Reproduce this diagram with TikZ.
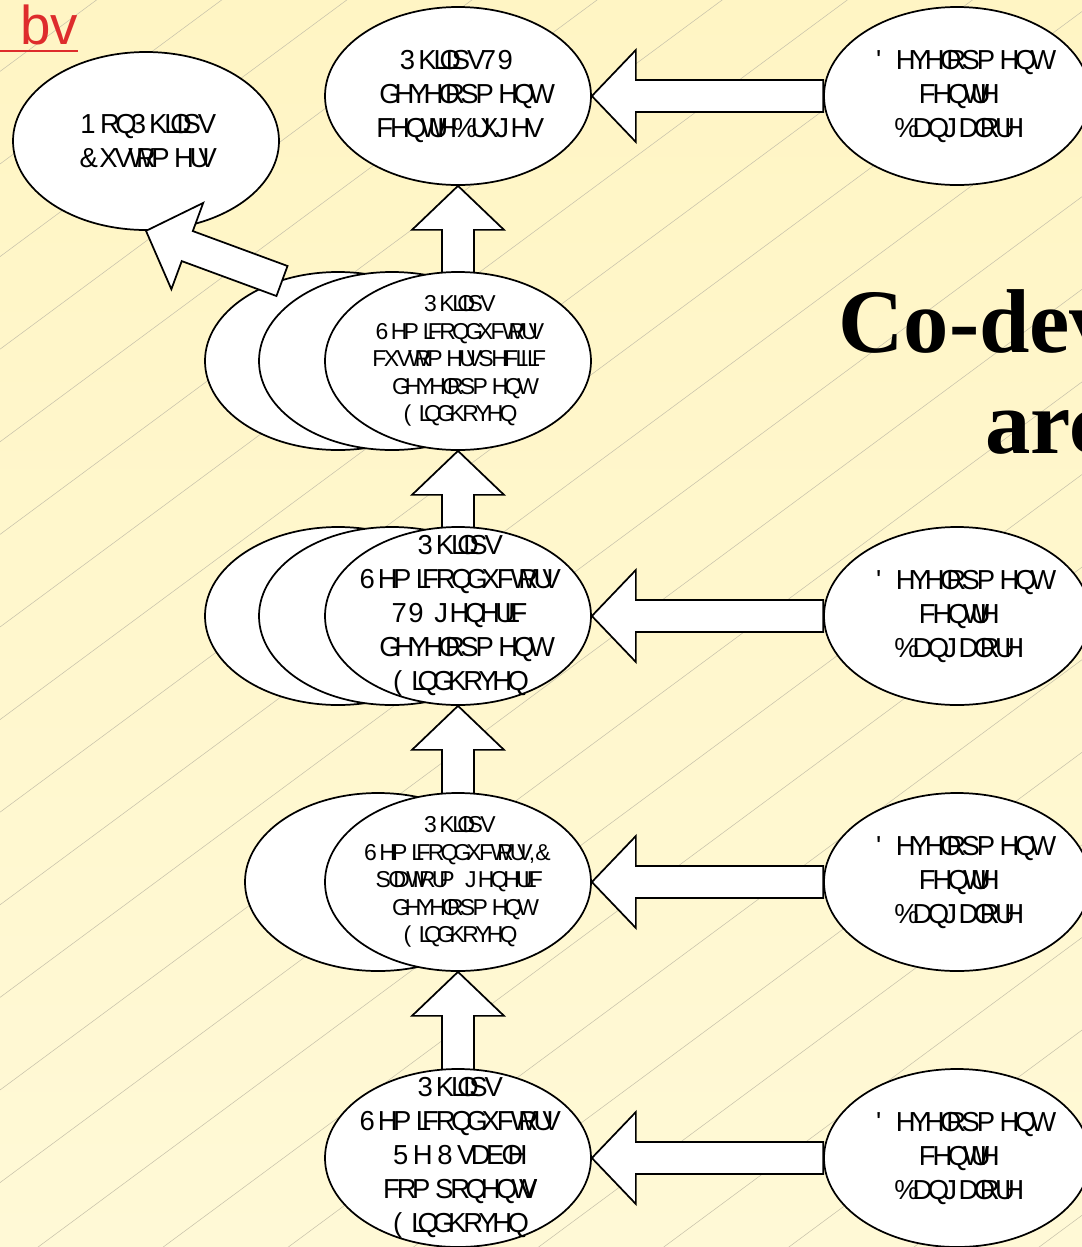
\documentclass[tikz,border=0pt]{standalone}
\usepackage{fontspec}
\usetikzlibrary{shapes.geometric,calc}
\newfontfamily\arialf{Liberation Sans}
\newfontfamily\timesf{Liberation Serif}
\definecolor{bgtop}{RGB}{255,245,196}
\definecolor{bgbot}{RGB}{255,249,214}
\definecolor{hatch}{RGB}{200,194,170}
\definecolor{logored}{RGB}{222,44,44}
\pgfdeclarelayer{bg}
\pgfdeclarelayer{arr}
\pgfsetlayers{bg,arr,main}

\ExplSyntaxOn
\box_new:N \l_gb_box
\NewDocumentCommand\gb{m}{
  \str_map_inline:nn {#1}
    {
      \tl_if_blank:nTF {##1}
        { \skip_horizontal:n { 0.278em } }
        {
          \hbox_set:Nn \l_gb_box {##1}
          \hbox_to_wd:nn { \box_wd:N \l_gb_box }
            {
              \int_compare:nNnTF { `##1 - 29 } < { 33 }
                { }
                { \char \int_eval:n { `##1 - 29 } \scan_stop: }
              \hss
            }
        }
    }
}
\ExplSyntaxOff

\newcommand\blockarr[3]{%
  \coordinate (#3b) at ($(#2)!33pt!(#1)$);
  \draw[barrow] ($(#1)!12pt!90:(#2)$) -- ($(#3b)!12pt!-90:(#1)$)
    -- ($(#3b)!34.5pt!-90:(#1)$) -- (#2) -- ($(#3b)!34.5pt!90:(#1)$)
    -- ($(#3b)!12pt!90:(#1)$) -- ($(#1)!12pt!-90:(#2)$) -- cycle;
}

\begin{document}
\begin{tikzpicture}[x=0.75pt,y=-0.75pt,
  ell/.style={ellipse, draw, fill=white, line width=1.3pt,
    minimum width=199.5pt, minimum height=133.5pt, inner sep=0pt},
  barrow/.style={draw, fill=white, line width=1.3pt, line join=miter},
  bigtxt/.style={align=center, inner sep=0pt,
    font=\arialf\fontsize{20.6}{25.5}\selectfont},
  smalltxt/.style={align=center, inner sep=0pt,
    font=\arialf\fontsize{17.25}{20.6}\selectfont},
  title/.style={anchor=base west, inner sep=0pt,
    font=\timesf\bfseries\fontsize{68}{68}\selectfont}]
\useasboundingbox (0,0) rectangle (1082,1247);
\clip (0,0) rectangle (1082,1247);

\begin{pgfonlayer}{bg}
\shade[top color=bgtop, bottom color=bgbot] (0,0) rectangle (1082,1247);
\foreach \k in {-7,...,15}
  \draw[hatch, line width=0.4pt] (0,{627+92.6*\k}) -- (1082,{627+92.6*\k-800.7});
\end{pgfonlayer}

% ellipses
\node[ell] (A) at (146,141) {};
\node[ell] (B) at (458,96) {};
\node[ell] (R1) at (957,96) {};
\node[ell] (R2) at (957,616) {};
\node[ell] (R3) at (957,882) {};
\node[ell] (R4) at (957,1158) {};

\node[ell] (S1c) at (338,361) {};
\node[ell] (S1b) at (392,361) {};
\node[ell] (S1) at (458,361) {};

\node[ell] (S2c) at (338,616) {};
\node[ell] (S2b) at (392,616) {};
\node[ell] (S2) at (458,616) {};

\node[ell] (S3b) at (378,882) {};
\node[ell] (S3) at (458,882) {};

\node[ell] (S4) at (458,1158) {};

% block arrows behind ellipses
\begin{pgfonlayer}{arr}
\coordinate (u1) at ($(S1.north)+(0,8)$);
\coordinate (u2) at ($(S2.north)+(0,8)$);
\coordinate (u3) at ($(S3.north)+(0,8)$);
\coordinate (u4) at ($(S4.north)+(0,8)$);
\blockarr{u1}{B.south}{ua}
\blockarr{u2}{S1.south}{ub}
\blockarr{u3}{S2.south}{uc}
\blockarr{u4}{S3.south}{ud}
\blockarr{R1.west}{B.east}{ha}
\blockarr{R2.west}{S2.east}{hb}
\blockarr{R3.west}{S3.east}{hc}
\blockarr{R4.west}{S4.east}{hd}
\end{pgfonlayer}

% diagonal arrow above the back ellipse
\coordinate (dt) at (282,281);
\blockarr{dt}{A.south}{da}

% texts
\node[bigtxt] (tA) at (A) {\gb{NonPhilips}\\\gb{Customers}};
\node[bigtxt] (tB) at (B) {\gb{PhilipsTV}\\\gb{development}\\\gb{centreBruges}};
\node[bigtxt] (tR1) at (R1) {\gb{Development}\\\gb{centre}\\\gb{Bangalore}};
\node[bigtxt] (tR2) at (R2) {\gb{Development}\\\gb{centre}\\\gb{Bangalore}};
\node[bigtxt] (tR3) at (R3) {\gb{Development}\\\gb{centre}\\\gb{Bangalore}};
\node[bigtxt] (tR4) at (R4) {\gb{Development}\\\gb{centre}\\\gb{Bangalore}};
\node[smalltxt] (tS1) at (S1) {\gb{Philips}\\\gb{Semiconductors}\\\gb{customerspecific}\\\gb{development}\\\gb{Eindhoven}};
\node[bigtxt] (tS2) at (S2) {\gb{Philips}\\\gb{Semiconductors}\\\gb{TV generic}\\\gb{development}\\\gb{Eindhoven}};
\node[smalltxt] (tS3) at (S3) {\gb{Philips}\\\gb{SemiconductorsIC}\\\gb{platform generic}\\\gb{development}\\\gb{Eindhoven}};
\node[bigtxt] (tS4) at (S4) {\gb{Philips}\\\gb{Semiconductors}\\\gb{Re-Usable}\\\gb{components}\\\gb{Eindhoven}};

% title
\node[title] (ti1) at (838,352) {Co-dev};
\node[title] (ti2) at (985,453) {arc};

% logo
\node[anchor=base west, inner sep=0pt, text=logored,
  font=\arialf\fontsize{41}{41}\selectfont] (logo) at (20,44) {bv};
\draw[logored, line width=1.2pt] (0,51) -- (78,51);
\end{tikzpicture}
\end{document}
